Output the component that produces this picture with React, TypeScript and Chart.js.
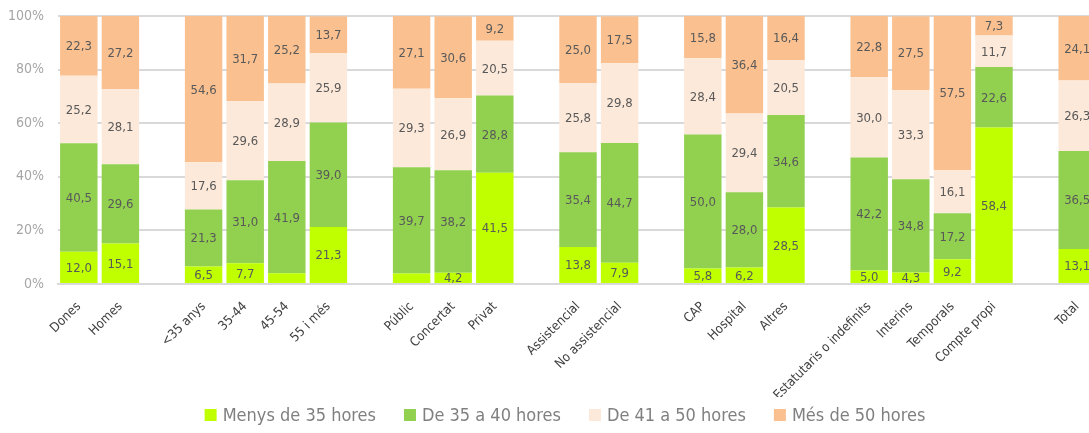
import React, { useEffect, useRef } from "react";
import { Chart, registerables } from "chart.js";

Chart.register(...registerables);

const categories = [
  "Dones", "Homes", "",
  "<35 anys", "35-44", "45-54", "55 i més", "",
  "Públic", "Concertat", "Privat", "",
  "Assistencial", "No assistencial", "",
  "CAP", "Hospital", "Altres", "",
  "Estatutaris o indefinits", "Interins", "Temporals", "Compte propi", "",
  "Total",
];

const seriesNames = ["Menys de 35 hores", "De 35 a 40 hores", "De 41 a 50 hores", "Més de 50 hores"];

const menys35 = [12.0, 15.1, null, 6.5, 7.7, 4.0, 21.3, null, 3.9, 4.2, 41.5, null, 13.8, 7.9, null, 5.8, 6.2, 28.5, null, 5.0, 4.3, 9.2, 58.4, null, 13.1];
const de35a40 = [40.5, 29.6, null, 21.3, 31.0, 41.9, 39.0, null, 39.7, 38.2, 28.8, null, 35.4, 44.7, null, 50.0, 28.0, 34.6, null, 42.2, 34.8, 17.2, 22.6, null, 36.5];
const de41a50 = [25.2, 28.1, null, 17.6, 29.6, 28.9, 25.9, null, 29.3, 26.9, 20.5, null, 25.8, 29.8, null, 28.4, 29.4, 20.5, null, 30.0, 33.3, 16.1, 11.7, null, 26.3];
const mes50 = [22.3, 27.2, null, 54.6, 31.7, 25.2, 13.7, null, 27.1, 30.6, 9.2, null, 25.0, 17.5, null, 15.8, 36.4, 16.4, null, 22.8, 27.5, 57.5, 7.3, null, 24.1];

const yTicks = [0, 20, 40, 60, 80, 100];

const colors = ["#bfff00", "#92d050", "#fde9d9", "#fac090"];
const FONT = "'Liberation Sans Narrow', 'Arial Narrow', 'DejaVu Sans Condensed', sans-serif";

const valueLabels = {
  id: "valueLabels",
  afterDatasetsDraw(chart: any) {
    const ctx = chart.ctx;
    ctx.save();
    ctx.font = `13px ${FONT}`;
    ctx.fillStyle = "#595959";
    ctx.textAlign = "center";
    ctx.textBaseline = "middle";
    chart.data.datasets.forEach((ds: any, di: number) => {
      const meta = chart.getDatasetMeta(di);
      meta.data.forEach((el: any, i: number) => {
        const v = ds.data[i];
        if (v == null || v < 4.1) return;
        const p = el.getProps(["x", "y", "base"], true);
        ctx.fillText(v.toFixed(1).replace(".", ","), p.x, (p.y + p.base) / 2 + 1);
      });
    });
    ctx.restore();
  },
};

const customLegend = {
  id: "customLegend",
  afterDraw(chart: any) {
    const ctx = chart.ctx;
    ctx.save();
    ctx.font = `18px ${FONT}`;
    ctx.textBaseline = "middle";
    ctx.textAlign = "left";
    const box = 12, gapBox = 6, gapItem = 28;
    const widths = chart.data.datasets.map((d: any) => box + gapBox + ctx.measureText(d.label).width);
    const total = widths.reduce((a: number, b: number) => a + b, 0) + gapItem * (widths.length - 1);
    let x = 565 - total / 2;
    const cy = 415;
    chart.data.datasets.forEach((d: any, i: number) => {
      ctx.fillStyle = d.backgroundColor;
      ctx.fillRect(x, cy - box / 2, box, box);
      ctx.fillStyle = "#808080";
      ctx.fillText(d.label, x + box + gapBox, cy + 1);
      x += widths[i] + gapItem;
    });
    ctx.restore();
  },
};

export default function App() {
  const ref = useRef<HTMLCanvasElement>(null);
  useEffect(() => {
    if (!ref.current) return;
    const seriesData = [menys35, de35a40, de41a50, mes50];
    const chart = new Chart(ref.current, {
      type: "bar",
      data: {
        labels: categories,
        datasets: seriesData.map((d, i) => ({
          label: seriesNames[i],
          data: d,
          backgroundColor: colors[i],
          borderWidth: 0,
          barPercentage: 0.9,
          categoryPercentage: 1.0,
        })),
      },
      options: {
        animation: false,
        responsive: false,
        devicePixelRatio: 1,
        layout: { padding: { left: 0, right: 2, top: 16, bottom: 36 } },
        plugins: {
          legend: { display: false },
          tooltip: { enabled: false },
        },
        scales: {
          x: {
            stacked: true,
            grid: { display: false },
            border: { display: true, color: "#d9d9d9", width: 2 },
            ticks: {
              autoSkip: false,
              maxRotation: 45,
              minRotation: 45,
              color: "#404040",
              font: { family: FONT, size: 13 },
              padding: 7,
            },
            afterFit(scale: any) {
              scale.height = 113;
            },
          },
          y: {
            stacked: true,
            min: 0,
            max: 100,
            afterBuildTicks(scale: any) {
              scale.ticks = yTicks.map((v) => ({ value: v }));
            },
            ticks: {
              color: "#a6a6a6",
              font: { family: FONT, size: 14 },
              padding: 0,
              callback: (v: any) => v + "%",
            },
            grid: {
              color: "#d9d9d9",
              lineWidth: 2,
              drawTicks: true,
              tickLength: 14,
              tickColor: "rgba(0,0,0,0)",
            },
            border: { display: false },
            afterFit(scale: any) {
              scale.width = 58;
            },
          },
        },
      },
      plugins: [valueLabels, customLegend],
    });
    return () => chart.destroy();
  }, []);
  return (
    <div style={{ position: "fixed", left: 0, top: 0, width: 1100, height: 433, background: "#fff" }}>
      <canvas ref={ref} width={1100} height={433} style={{ width: 1100, height: 433, display: "block" }} />
    </div>
  );
}
